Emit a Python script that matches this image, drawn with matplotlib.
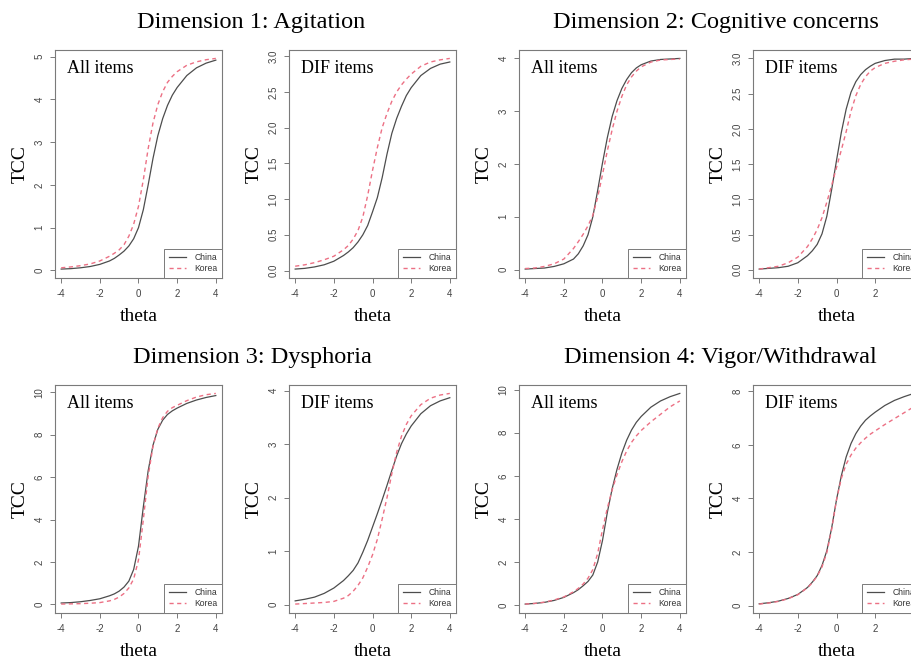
import matplotlib.pyplot as plt

plt.rcParams['font.family'] = 'Liberation Sans'
plt.rcParams['axes.unicode_minus'] = False

# theta grid the curves were read at (finer in the steep middle part)
theta = [-4, -3.5, -3, -2.5, -2, -1.5, -1.25, -1, -0.75, -0.5, -0.25, 0,
         0.25, 0.5, 0.75, 1, 1.25, 1.5, 1.75, 2, 2.5, 3, 3.5, 4]

# Dimension 1: Agitation
d1_all_china = [0.03, 0.04, 0.06, 0.09, 0.14, 0.22, 0.28, 0.36, 0.45, 0.57, 0.74, 1.00,
                1.42, 2.00, 2.62, 3.15, 3.55, 3.86, 4.10, 4.28, 4.56, 4.74, 4.85, 4.92]
d1_all_korea = [0.06, 0.08, 0.11, 0.15, 0.22, 0.33, 0.40, 0.48, 0.60, 0.80, 1.08, 1.50,
                2.12, 2.85, 3.45, 3.88, 4.18, 4.40, 4.54, 4.65, 4.80, 4.88, 4.93, 4.96]
d1_dif_china = [0.02, 0.03, 0.05, 0.08, 0.13, 0.21, 0.26, 0.32, 0.40, 0.50, 0.63, 0.82,
                1.02, 1.30, 1.63, 1.92, 2.13, 2.30, 2.45, 2.56, 2.73, 2.83, 2.89, 2.92]
d1_dif_korea = [0.06, 0.08, 0.11, 0.15, 0.20, 0.29, 0.35, 0.44, 0.56, 0.75, 1.05, 1.40,
                1.72, 2.00, 2.20, 2.37, 2.50, 2.60, 2.68, 2.75, 2.86, 2.92, 2.95, 2.97]

# Dimension 2: Cognitive concerns
d2_all_china = [0.01, 0.02, 0.03, 0.06, 0.11, 0.20, 0.30, 0.45, 0.66, 1.00, 1.50, 2.02,
                2.50, 2.90, 3.20, 3.43, 3.60, 3.73, 3.82, 3.88, 3.95, 3.98, 3.99, 4.00]
d2_all_korea = [0.02, 0.03, 0.06, 0.11, 0.20, 0.40, 0.53, 0.67, 0.83, 1.03, 1.37, 1.80,
                2.25, 2.65, 3.00, 3.28, 3.50, 3.65, 3.76, 3.84, 3.93, 3.97, 3.98, 3.99]
d2_dif_china = [0.01, 0.02, 0.03, 0.05, 0.10, 0.20, 0.27, 0.36, 0.51, 0.76, 1.14, 1.55,
                1.95, 2.28, 2.52, 2.67, 2.77, 2.84, 2.89, 2.93, 2.97, 2.99, 2.99, 3.00]
d2_dif_korea = [0.01, 0.03, 0.05, 0.10, 0.18, 0.33, 0.44, 0.57, 0.74, 0.96, 1.20, 1.45,
                1.70, 1.96, 2.25, 2.47, 2.63, 2.74, 2.82, 2.87, 2.93, 2.96, 2.98, 2.99]

# Dimension 3: Dysphoria
d3_all_china = [0.07, 0.09, 0.13, 0.19, 0.27, 0.41, 0.50, 0.63, 0.82, 1.10, 1.65, 2.75,
                4.60, 6.30, 7.50, 8.25, 8.68, 8.95, 9.12, 9.25, 9.47, 9.63, 9.75, 9.84]
d3_all_korea = [0.02, 0.03, 0.04, 0.06, 0.09, 0.17, 0.24, 0.35, 0.52, 0.78, 1.20, 2.10,
                4.00, 6.05, 7.45, 8.30, 8.80, 9.10, 9.27, 9.38, 9.60, 9.77, 9.88, 9.94]
d3_dif_china = [0.07, 0.10, 0.14, 0.21, 0.31, 0.45, 0.54, 0.64, 0.78, 0.98, 1.20, 1.45,
                1.70, 1.96, 2.23, 2.51, 2.78, 3.01, 3.19, 3.34, 3.57, 3.72, 3.81, 3.87]
d3_dif_korea = [0.01, 0.02, 0.03, 0.04, 0.06, 0.12, 0.17, 0.25, 0.36, 0.50, 0.70, 0.93,
                1.22, 1.60, 2.00, 2.45, 2.85, 3.15, 3.37, 3.53, 3.74, 3.86, 3.92, 3.95]

# Dimension 4: Vigor/Withdrawal
d4_all_china = [0.05, 0.08, 0.13, 0.22, 0.36, 0.58, 0.72, 0.90, 1.10, 1.40, 2.00, 3.00,
                4.30, 5.40, 6.30, 7.05, 7.65, 8.12, 8.48, 8.75, 9.18, 9.47, 9.67, 9.82]
d4_all_korea = [0.05, 0.08, 0.14, 0.24, 0.38, 0.62, 0.78, 0.98, 1.25, 1.65, 2.40, 3.50,
                4.50, 5.35, 6.05, 6.65, 7.15, 7.55, 7.85, 8.10, 8.50, 8.85, 9.20, 9.47]
d4_dif_china = [0.07, 0.11, 0.17, 0.27, 0.42, 0.68, 0.88, 1.12, 1.50, 2.05, 2.90, 3.95,
                4.85, 5.55, 6.05, 6.42, 6.70, 6.92, 7.08, 7.22, 7.47, 7.66, 7.80, 7.92]
d4_dif_korea = [0.06, 0.10, 0.16, 0.26, 0.41, 0.67, 0.86, 1.10, 1.45, 1.98, 2.85, 3.95,
                4.75, 5.28, 5.62, 5.88, 6.08, 6.25, 6.40, 6.52, 6.76, 6.98, 7.20, 7.42]

titles = ["Dimension 1: Agitation", "Dimension 2: Cognitive concerns",
          "Dimension 3: Dysphoria", "Dimension 4: Vigor/Withdrawal"]
x_ticks = [-4, -2, 0, 2, 4]

panels = [
    (d1_all_china, d1_all_korea, "All items", [0, 1, 2, 3, 4, 5], "{:g}"),
    (d1_dif_china, d1_dif_korea, "DIF items", [0, 0.5, 1, 1.5, 2, 2.5, 3], "{:.1f}"),
    (d2_all_china, d2_all_korea, "All items", [0, 1, 2, 3, 4], "{:g}"),
    (d2_dif_china, d2_dif_korea, "DIF items", [0, 0.5, 1, 1.5, 2, 2.5, 3], "{:.1f}"),
    (d3_all_china, d3_all_korea, "All items", [0, 2, 4, 6, 8, 10], "{:g}"),
    (d3_dif_china, d3_dif_korea, "DIF items", [0, 1, 2, 3, 4], "{:g}"),
    (d4_all_china, d4_all_korea, "All items", [0, 2, 4, 6, 8, 10], "{:g}"),
    (d4_dif_china, d4_dif_korea, "DIF items", [0, 2, 4, 6, 8], "{:g}"),
]

FW, FH = 912, 660
fig = plt.figure(figsize=(FW / 100, FH / 100), dpi=100)

def box(x0, y0, w, h):
    # pixel box (top-left origin) -> figure fraction
    return [x0 / FW, 1 - (y0 + h) / FH, w / FW, h / FH]

lefts = [55, 289, 519, 753]
tops = [50, 385]
W, H = 167, 227.5
gray = '#7a7a7a'
serif = 'Liberation Serif'

for i, (china, korea, label, yticks, fmt) in enumerate(panels):
    row, col = divmod(i, 4)
    ax = fig.add_axes(box(lefts[col], tops[row], W, H))
    ax.plot(theta, china, color='#4d4d4d', lw=0.9, label='China')
    ax.plot(theta, korea, color='#ec7084', lw=1.0, ls=(0, (3, 2.5)), label='Korea')
    ax.margins(x=0.04, y=0.04)
    ax.set_xticks(x_ticks)
    ax.set_xticklabels([str(t) for t in x_ticks])
    ax.set_yticks(yticks)
    ax.set_yticklabels([fmt.format(v) for v in yticks])
    for s in ax.spines.values():
        s.set_color(gray)
        s.set_linewidth(0.8)
    ax.tick_params(direction='out', length=3.6, width=0.7, color=gray,
                   labelsize=7, labelcolor='#444444')
    ax.tick_params(axis='x', pad=5)
    ax.tick_params(axis='y', pad=4, labelrotation=90)
    for t in ax.get_yticklabels():
        t.set_va('center')

    ax.text(0.07, 0.955, label, transform=ax.transAxes, ha='left', va='top',
            fontsize=13, family=serif)
    ax.text(-35 / W, 0.5, 'TCC', transform=ax.transAxes, rotation=90,
            ha='center', va='center', fontsize=14, family=serif)
    ax.text(0.5, -39 / H, 'theta', transform=ax.transAxes, ha='center',
            va='center', fontsize=14, family=serif)

    leg = ax.legend(loc='lower right', fontsize=6.2, fancybox=False, framealpha=1,
                    edgecolor=gray, borderaxespad=0, handlelength=2.0,
                    handletextpad=1.0, labelspacing=0.25, borderpad=0.5)
    leg.get_frame().set_linewidth(0.7)
    for t in leg.get_texts():
        t.set_color('#333333')

title_pos = [(251, 28), (716, 28), (252, 363), (720, 363)]
for t, (x, y) in zip(titles, title_pos):
    fig.text(x / FW, 1 - y / FH, t, ha='center', va='baseline', fontsize=17.5, family=serif)

fig.savefig('out.png', dpi=100)
